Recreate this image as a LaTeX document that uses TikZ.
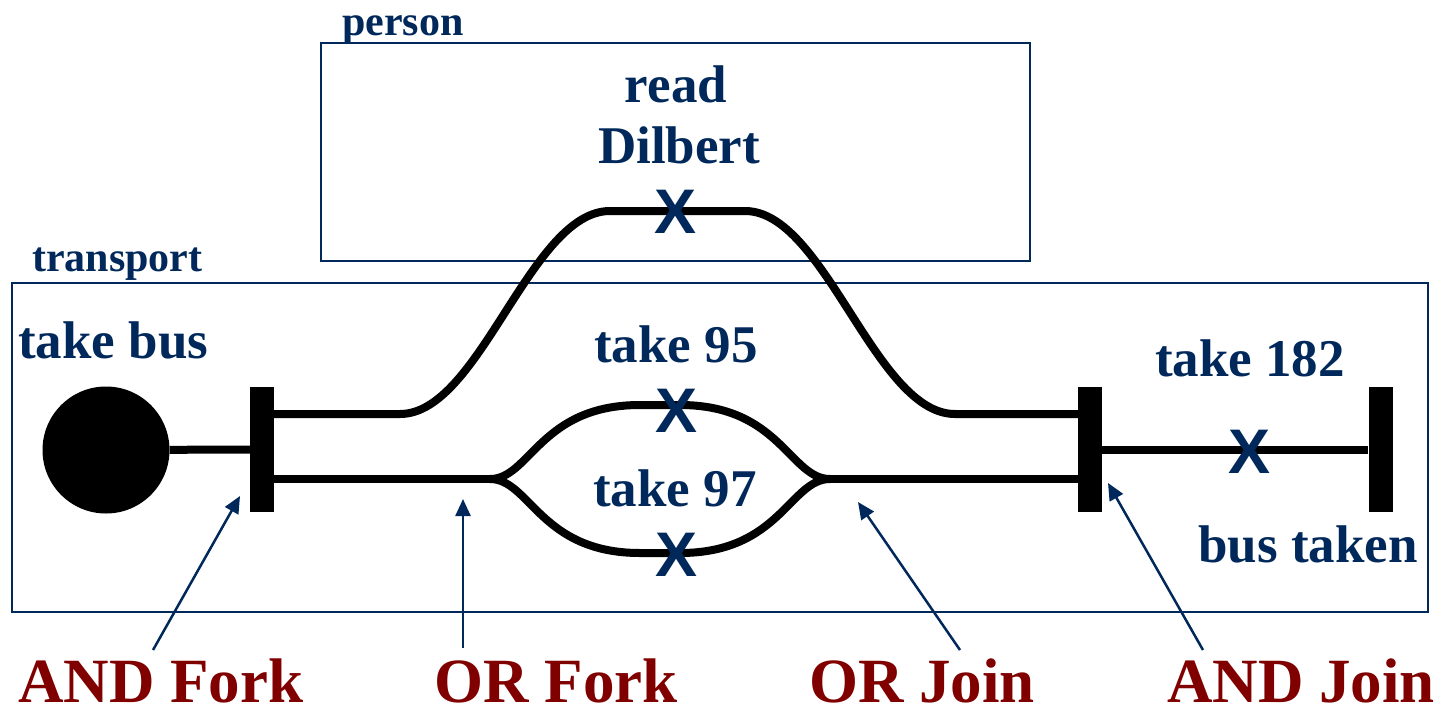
\documentclass[tikz,border=0pt]{standalone}
\usepackage{fontspec}
\setmainfont{Liberation Serif}
\setsansfont{Liberation Sans}
\usetikzlibrary{arrows.meta}
\definecolor{navy}{RGB}{0,40,90}
\definecolor{darkred}{RGB}{128,0,0}
\begin{document}
\begin{tikzpicture}[x=1pt,y=-1pt,
    flow/.style={draw=black,line width=8pt},
    box/.style={draw=navy,line width=2pt},
    pointer/.style={draw=navy,line width=2.5pt,-{Triangle[length=17pt,width=15pt]}}]
  \useasboundingbox (0,0) rectangle (1442,710);
  \draw[box] (321,43) rectangle (1030,261);
  \draw[box] (12,283) rectangle (1428,612);
  \begin{scope}[every node/.style={fill=black,inner sep=0pt,minimum width=24pt,minimum height=125pt}]
    \node (andfork) at (262,449.5) {};
    \node (andjoin) at (1090,449.5) {};
    \node (busend) at (1380.5,449.5) {};
  \end{scope}
  \node[circle,fill=black,inner sep=0pt,minimum size=127pt] (start) at (106,450) {};
  \coordinate (orfork) at (490,479);
  \coordinate (orjoin) at (830,479);
  \begin{scope}[every edge/.style={flow}]
    \path (start) edge (andfork);
    \path (andjoin) edge (busend);
    \path (andfork.east |- 0,479) edge (orfork);
    \path (orjoin) edge (andjoin.west |- 0,479);
  \end{scope}
  \draw[flow] (andfork.east |- 0,414) -- (400,414)
    .. controls (480,414) and (530,211) .. (610,211) -- (745,211)
    .. controls (825,211) and (875,414) .. (955,414) -- (andjoin.west |- 0,414);
  \draw[flow] (orfork) .. controls (530,479) and (540,405) .. (640,405) -- (680,405)
    .. controls (780,405) and (790,479) .. (orjoin);
  \draw[flow] (orfork) .. controls (530,479) and (540,553) .. (640,553) -- (680,553)
    .. controls (780,553) and (790,479) .. (orjoin);
  \begin{scope}[every node/.style={text=navy,inner sep=0pt,font=\sffamily\bfseries\fontsize{63}{63}\selectfont}]
    \node (xread) at (676,212) {X};
    \node (x95) at (677,411) {X};
    \node (x97) at (677,555) {X};
    \node (x182) at (1249,452) {X};
  \end{scope}
  \begin{scope}[every node/.style={text=navy,inner sep=0pt,anchor=base,font=\bfseries\fontsize{53}{60}\selectfont}]
    \node (read) at (676,102) {read};
    \node (dilbert) at (679,163) {Dilbert};
    \node[anchor=base west] (takebus) at (18,358) {take bus};
    \node (take95) at (676,362) {take 95};
    \node (take97) at (675,506) {take 97};
    \node (take182) at (1250,376) {take 182};
    \node[anchor=base west] (bustaken) at (1198,562) {bus taken};
    \node[anchor=base west,font=\bfseries\fontsize{42}{48}\selectfont] (person) at (342,35) {person};
    \node[anchor=base west,font=\bfseries\fontsize{42}{48}\selectfont] (transport) at (32,271) {transport};
  \end{scope}
  \begin{scope}[every node/.style={text=darkred,inner sep=0pt,anchor=base,font=\bfseries\fontsize{63}{70}\selectfont}]
    \node[anchor=base west] (andforklbl) at (18,702) {AND Fork};
    \node (orforklbl) at (556,702) {OR Fork};
    \node (orjoinlbl) at (922,702) {OR Join};
    \node[anchor=base east] (andjoinlbl) at (1435,702) {AND Join};
  \end{scope}
  \coordinate (t1) at (153,650);
  \coordinate (t2) at (463,648);
  \coordinate (t3) at (960,650);
  \coordinate (t4) at (1203,650);
  \draw[pointer] (t1) -- (240,496);
  \draw[pointer] (t2) -- (463,499);
  \draw[pointer] (t3) -- (858,502);
  \draw[pointer] (t4) -- (1108,483);
\end{tikzpicture}
\end{document}
